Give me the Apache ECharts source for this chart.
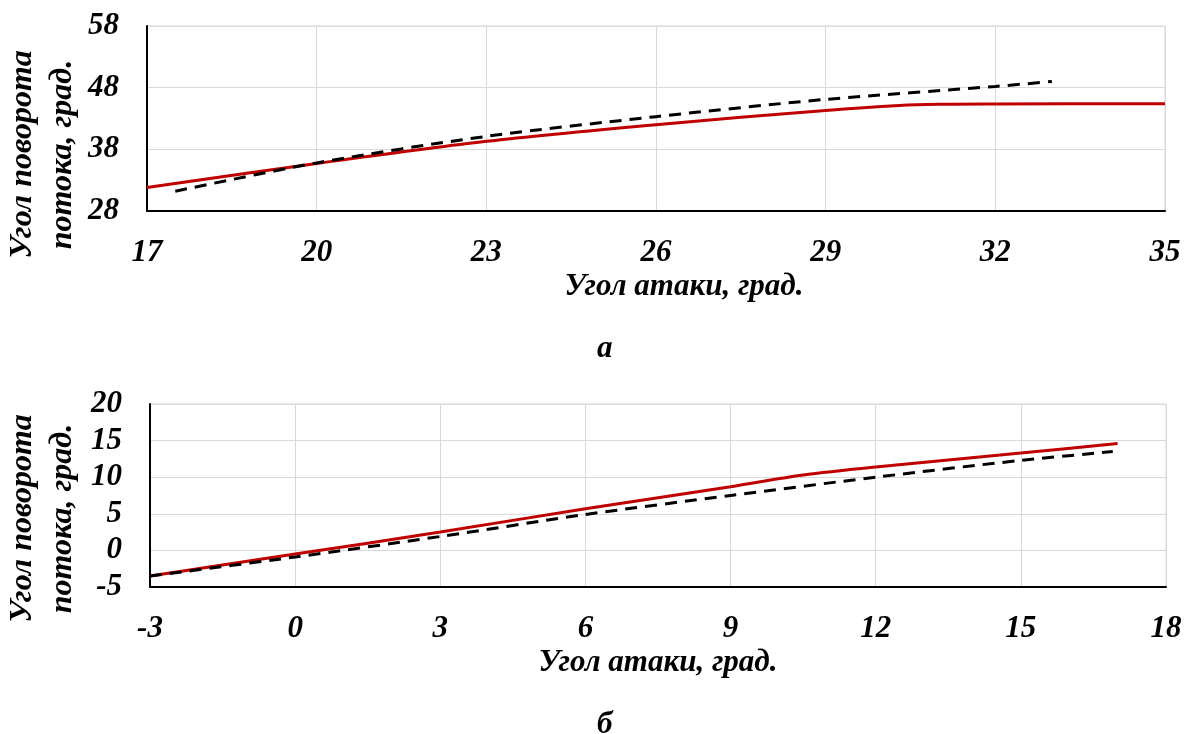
<!DOCTYPE html>
<html>
<head>
<meta charset="utf-8">
<script src="https://cdn.jsdelivr.net/npm/echarts@6/dist/echarts.min.js"></script>
<style>
html,body{margin:0;padding:0;background:#fff;}
#c{width:1184px;height:734px;}
</style>
</head>
<body>
<div id="c"></div>
<script>
// Panel "а"
const aRedX = [17, 20, 23, 26, 29, 30.3, 31, 32, 35];
const aRedY = [31.8, 35.7, 39.3, 42.0, 44.3, 45.1, 45.3, 45.35, 45.4];
const aDashX = [17.5, 20, 23, 26, 29, 32, 33];
const aDashY = [31.2, 35.8, 40.1, 43.3, 46.1, 48.2, 49.0];
// Panel "б"
const bRedX = [-3, 0, 3, 6, 9, 10.5, 12, 15, 17];
const bRedY = [-3.5, -0.5, 2.5, 5.7, 8.7, 10.3, 11.4, 13.3, 14.6];
const bDashX = [-3, 0, 3, 6, 9, 12, 15, 16.9];
const bDashY = [-3.5, -0.9, 1.9, 4.9, 7.5, 10.0, 12.3, 13.5];

const xName = 'Угол атаки, град.';
const yName = 'Угол поворота\nпотока, град.';
const panelLabels = ['а', 'б'];

const FONT = "'Liberation Serif', 'Times New Roman', serif";
const txt = {fontFamily: FONT, fontStyle: 'italic', fontWeight: 'bold', color: '#000'};

function pairs(xs, ys){ return xs.map((x,i)=>[x, ys[i]]); }

function xAx(idx, min, max){
  return {
    type:'value', gridIndex: idx, min, max, interval: 3,
    name: xName, nameLocation:'middle', nameGap: 60,
    nameTextStyle: Object.assign({fontSize: 31, padding: idx===0 ? [0,0,0,56] : [0,0,0,0]}, txt),
    axisLine:{show:true, onZero:false, lineStyle:{color:'#000', width:2}},
    axisTick:{show:false},
    axisLabel: Object.assign({fontSize: 31, margin: 26}, txt),
    splitLine:{show:true, lineStyle:{color:'#d9d9d9', width:1}}
  };
}
function yAx(idx, min, max, interval, shift, gap){
  return {
    type:'value', gridIndex: idx, min, max, interval,
    name: yName, nameLocation:'middle', nameGap: gap, nameRotate: 90, nameMoveOverlap: false,
    nameTextStyle: Object.assign({fontSize: 32, lineHeight: 40, padding:[0, shift, 0, 0]}, txt),
    axisLine:{show:true, onZero:false, lineStyle:{color:'#000', width:2}},
    axisTick:{show:false},
    axisLabel: Object.assign({fontSize: 31, margin: 28}, txt),
    splitLine:{show:true, lineStyle:{color:'#d9d9d9', width:1}}
  };
}

const chart = echarts.init(document.getElementById('c'));
chart.setOption({
  animation:false,
  backgroundColor:'#fff',
  grid:[
    {left:147, right:19, top:26, height:185, show:true, borderColor:'#d9d9d9', borderWidth:1, containLabel:false, outerBoundsMode:'none'},
    {left:150, right:18, top:404, height:183, show:true, borderColor:'#d9d9d9', borderWidth:1, containLabel:false, outerBoundsMode:'none'}
  ],
  xAxis:[xAx(0,17,35), xAx(1,-3,18)],
  yAxis:[yAx(0,28,58,10,72,64), yAx(1,-5,20,5,46,67)],
  graphic:[
    {type:'text', left:597, top:333, style:{text:panelLabels[0], font:"italic bold 31px " + FONT, fill:'#000'}},
    {type:'text', left:597, top:709, style:{text:panelLabels[1], font:"italic bold 31px " + FONT, fill:'#000'}}
  ],
  series:[
    {type:'line', xAxisIndex:0, yAxisIndex:0, data:pairs(aRedX,aRedY), smooth:0.3, showSymbol:false, lineStyle:{color:'#c00000', width:3}, z:3},
    {type:'line', xAxisIndex:0, yAxisIndex:0, data:pairs(aDashX,aDashY), smooth:0.3, showSymbol:false, lineStyle:{color:'#000', width:3, type:[12,8]}, z:4},
    {type:'line', xAxisIndex:1, yAxisIndex:1, data:pairs(bRedX,bRedY), smooth:0.3, showSymbol:false, lineStyle:{color:'#c00000', width:3}, z:3},
    {type:'line', xAxisIndex:1, yAxisIndex:1, data:pairs(bDashX,bDashY), smooth:0.3, showSymbol:false, lineStyle:{color:'#000', width:3, type:[12,8]}, z:4}
  ]
});
</script>
</body>
</html>
